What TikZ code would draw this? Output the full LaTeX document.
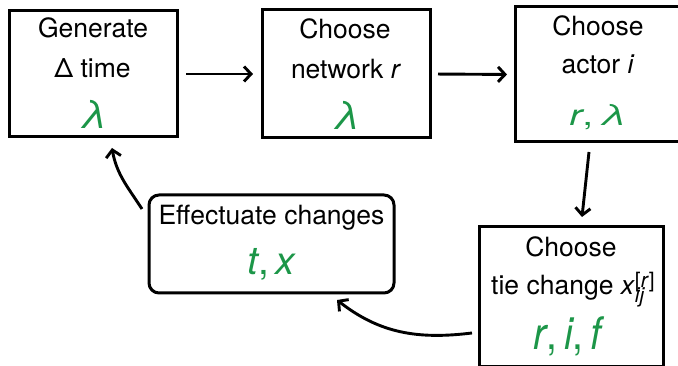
\documentclass[tikz,border=0pt]{standalone}
\usepackage{fontspec}
\setmainfont{TeX Gyre Heros}
\usetikzlibrary{arrows.meta}
\definecolor{grn}{RGB}{28,150,72}
\tikzset{
  box/.style={draw=black, line width=3pt, inner sep=0pt, outer sep=0pt},
  txt/.style={inner sep=0pt, outer sep=0pt, anchor=base, font=\fontsize{26.5}{30}\selectfont},
  gtxt/.style={inner sep=0pt, outer sep=0pt, anchor=base, text=grn, font=\fontsize{39}{42}\selectfont},
  arr/.style={line width=2.9pt, -{Straight Barb[length=7pt,width=15pt,line width=2.9pt]}}
}
\begin{document}
\begin{tikzpicture}[x=1pt,y=1pt]
\useasboundingbox (0,0) rectangle (678,366);
\clip (0,0) rectangle (678,366);
% boxes
\node[box, minimum width=168pt, minimum height=126pt] (b1) at (93,292) {};
\node[box, minimum width=168pt, minimum height=128pt] (b2) at (346,292) {};
\node[box, minimum width=168pt, minimum height=135pt] (b3) at (599,291.5) {};
\node[box, minimum width=184pt, minimum height=139.5pt] (b4) at (571,69.25) {};
\node[box, rounded corners=10pt, minimum width=245pt, minimum height=98pt] (b5) at (271.5,122) {};
% box 1
\node[txt] (t11) at (93,328) {Generate};
\node[txt] (t12) at (92.5,288.7) {Δ time};
\node[gtxt] (g1) at (94,237) {\itshape λ};
% box 2
\node[txt] (t21) at (345,327.7) {Choose};
\node[txt] (t22) at (346,287.7) {network \textit{r}};
\node[gtxt] (g2) at (347,236) {\itshape λ};
% box 3
\node[txt] (t31) at (598,330) {Choose};
\node[txt] (t32) at (598,292) {actor \textit{i}};
\node[gtxt] (g3) at (598,240) {\scalebox{1}[0.75]{\textit{r},\,\textit{λ}}};
% box 4
\node[txt] (t41) at (571,109.3) {Choose};
\node[txt] (t42) at (573,71) {tie change \textit{x}\makebox[0pt][l]{\raisebox{-8pt}{\fontsize{21}{21}\selectfont\itshape ij}}\raisebox{7.5pt}{\fontsize{21}{21}\selectfont[\textit{r}]}};
\node[gtxt] (g4) at (569,16) {\scalebox{1}[1.15]{\textit{r},\,\textit{i},\,\textit{f}}};
% box 5
\node[txt] (t51) at (271.5,141.7) {Effectuate changes};
\node[gtxt] (g5) at (271.7,91) {\textit{t},\,\textit{x}};
% connectors
\draw[arr, shorten <=9pt, shorten >=9pt] (b1.east) -- (b2.west);
\draw[arr, shorten <=8pt, shorten >=8pt] (b2.east) -- (b3.west);
\draw[arr] ([shift={(-10,-10)}]b3.south) -- ([shift={(11,10)}]b4.north);
\draw[arr] ([shift={(-7,-36.25)}]b4.west) to[out=187, in=-38] ([shift={(65.5,-7)}]b5.south);
\draw[arr] ([shift={(-7,-14)}]b5.north west) to[out=123, in=-80] ([shift={(19,-11)}]b1.south);
\end{tikzpicture}
\end{document}
